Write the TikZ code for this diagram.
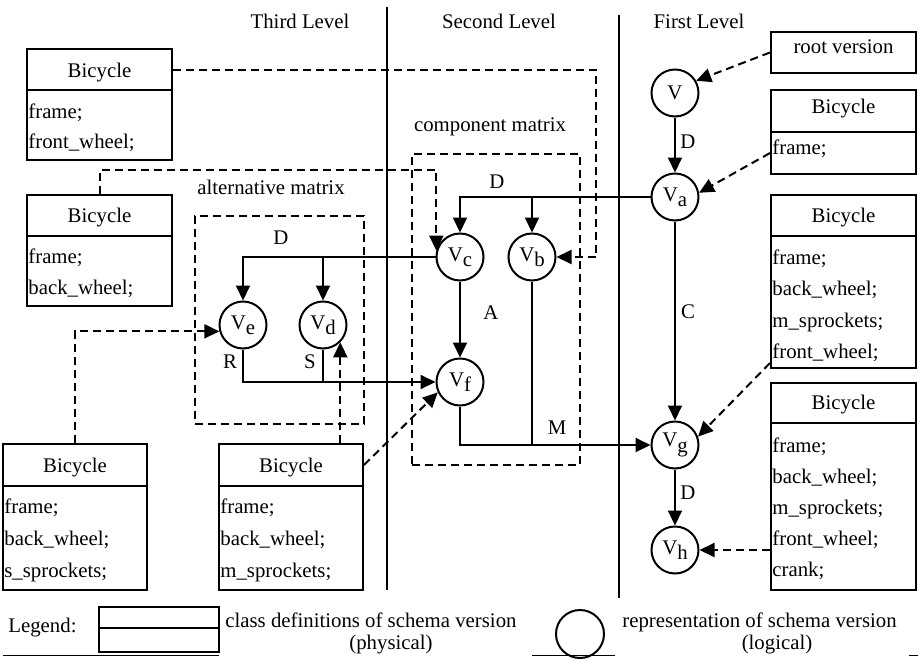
\documentclass[tikz,border=0pt]{standalone}
\usepackage{fontspec}
\setmainfont{Liberation Serif}
\usetikzlibrary{arrows.meta,fit,calc}
\newcommand{\Vsb}[1]{V\raisebox{-0.25em}{#1}}
\begin{document}
\begin{tikzpicture}[x=0.5pt,y=-0.5pt,
 every node/.style={font={\fontsize{10.4}{12}\selectfont}, inner sep=0pt},
 solidline/.style={line width=1pt},
 arr/.style={line width=1pt, -{Triangle[length=7.5pt,width=7pt]}},
 darr/.style={arr, dash pattern=on 4pt off 2.5pt},
 ver/.style={circle, draw, line width=1pt, minimum size=23.5pt, inner sep=0pt},
 cls/.style={draw, line width=1pt, inner sep=0pt, rectangle},
 mbox/.style={draw, line width=1pt, dash pattern=on 4pt off 2.5pt, inner sep=0pt},
 attr/.style={anchor=base west},
 ttl/.style={anchor=base}]
\useasboundingbox (0,0) rectangle (918,659);

% level separators
\draw[solidline] (387,7) -- (387,590);
\draw[solidline] (619,15) -- (619,598);
\node[ttl] (l3) at (300,28) {Third Level};
\node[ttl] (l2) at (499,28) {Second Level};
\node[ttl] (l1) at (699,28) {First Level};

% matrices
\node[mbox, fit={(412,154) (580,465)}] (cm) {};
\node[ttl] (cml) at (490,131) {component matrix};
\node[mbox, fit={(195,216) (364,424)}] (am) {};
\node[ttl] (aml) at (271,194) {alternative matrix};

% versions
\node[ver] (V)  at (675,93)  {V};
\node[ver] (Va) at (675,197) {\Vsb{a}};
\node[ver] (Vb) at (532,257) {\Vsb{b}};
\node[ver] (Vc) at (460,257) {\Vsb{c}};
\node[ver] (Vd) at (323,325) {\Vsb{d}};
\node[ver] (Ve) at (243,325) {\Vsb{e}};
\node[ver] (Vf) at (460,382) {\Vsb{f}};
\node[ver] (Vg) at (675,445) {\Vsb{g}};
\node[ver] (Vh) at (675,550) {\Vsb{h}};

% class boxes
\node[cls, fit={(27,49) (172,90)}] (l1h) {};
\node[cls, fit={(27,90) (172,160)}] (l1b) {};
\node[ttl] at (99.5,77) {Bicycle};
\node[attr] at (28,118) {frame;};
\node[attr] at (28,148) {front\_wheel;};

\node[cls, fit={(27,195) (172,236)}] (l2h) {};
\node[cls, fit={(27,236) (172,306)}] (l2b) {};
\node[ttl] at (99.5,222) {Bicycle};
\node[attr] at (28,263) {frame;};
\node[attr] at (28,294) {back\_wheel;};

\node[cls, fit={(3,444) (147,486)}] (b3h) {};
\node[cls, fit={(3,486) (147,590)}] (b3b) {};
\node[ttl] at (75,472) {Bicycle};
\node[attr] at (4,513) {frame;};
\node[attr] at (4,545) {back\_wheel;};
\node[attr] at (4,577) {s\_sprockets;};

\node[cls, fit={(219,444) (363,486)}] (b4h) {};
\node[cls, fit={(219,486) (363,590)}] (b4b) {};
\node[ttl] at (291,472) {Bicycle};
\node[attr] at (220,513) {frame;};
\node[attr] at (220,545) {back\_wheel;};
\node[attr] at (220,577) {m\_sprockets;};

\node[cls, fit={(771,32) (916,73)}] (root) {};
\node[ttl] at (843.5,53) {root version};

\node[cls, fit={(771,90) (916,132)}] (r2h) {};
\node[cls, fit={(771,132) (916,174)}] (r2b) {};
\node[ttl] at (843.5,113) {Bicycle};
\node[attr] at (772,154) {frame;};

\node[cls, fit={(771,195) (916,236)}] (r3h) {};
\node[cls, fit={(771,236) (916,368)}] (r3b) {};
\node[ttl] at (843.5,222) {Bicycle};
\node[attr] at (772,264) {frame;};
\node[attr] at (772,295) {back\_wheel;};
\node[attr] at (772,327) {m\_sprockets;};
\node[attr] at (772,358) {front\_wheel;};

\node[cls, fit={(771,383) (916,423)}] (r4h) {};
\node[cls, fit={(771,423) (916,590)}] (r4b) {};
\node[ttl] at (843.5,409) {Bicycle};
\node[attr] at (772,452) {frame;};
\node[attr] at (772,483) {back\_wheel;};
\node[attr] at (772,514) {m\_sprockets;};
\node[attr] at (772,545) {front\_wheel;};
\node[attr] at (772,576) {crank;};

% solid connectors
\draw[arr] (V) -- (Va);
\draw[arr] (Va.west) -| (Vc.north);
\draw[arr] (Vb.north |- Va.west) -- (Vb.north);
\draw[arr] (Va) -- (Vg);
\draw[arr] (Vg) -- (Vh);
\draw[arr] (Vc.west) -| (Ve.north);
\draw[arr] (Vd.north |- Vc.west) -- (Vd.north);
\draw[arr] (Vc) -- (Vf);
\draw[arr] (Ve.south) |- (Vf.west);
\draw[solidline] (Vd.south) -- (Vd.south |- Vf.west);
\draw[arr] (Vf.south) |- (Vg.west);
\draw[solidline] (Vb.south) -- (Vb.south |- Vg.west);

% edge labels
\node (eD1) at (688,142) {D};
\node (eD2) at (497,182) {D};
\node (eD3) at (281,238) {D};
\node (eC)  at (688,312) {C};
\node (eD4) at (688,493) {D};
\node (eA)  at (491,313) {A};
\node (eR)  at (230,362) {R};
\node (eS)  at (310,362) {S};
\node (eM)  at (557,428) {M};

% dashed connectors
\draw[darr] (root.west) -- (V.30);
\draw[darr] ($(r2b.south west)!0.5!(r2b.north west)$) -- (Va.10);
\draw[darr] ($(r3b.south west)+(0,-6)$) -- (Vg.20);
\draw[darr] (Vh.east -| r4b.west) -- (Vh.east);
\draw[darr] (l1h.east) -- ++(423,0) |- (Vb.east);
\draw[darr] (l2h.north) -- ++(0,-24) -| (Vc.165);
\draw[darr] (b3h.north) |- (Ve.195);
\draw[darr] (Vd.-45 |- b4h.north) -- (Vd.-45);
\draw[darr] (b4h.east) -- (Vf.205);

% legend
\node[attr] (leg) at (8,632) {Legend:};
\node[cls, fit={(99,607) (219,628)}] (lgh) {};
\node[cls, fit={(99,628) (219,652)}] (lgb) {};
\node[attr] (lgt1) at (225,627) {class definitions of schema version};
\node[ttl] (lgt2) at (391,649) {(physical)};
\node[ver, minimum size=24pt] (lgc) at (580,634) {};
\node[attr] (lgt3) at (622,627) {representation of schema version};
\node[ttl] (lgt4) at (777,649) {(logical)};
\draw[line width=0.5pt] (3,655) -- (219,655);
\draw[line width=0.5pt] (532,655) -- (615,655);
\draw[line width=0.5pt] (909,655) -- (918,655);
\end{tikzpicture}
\end{document}
